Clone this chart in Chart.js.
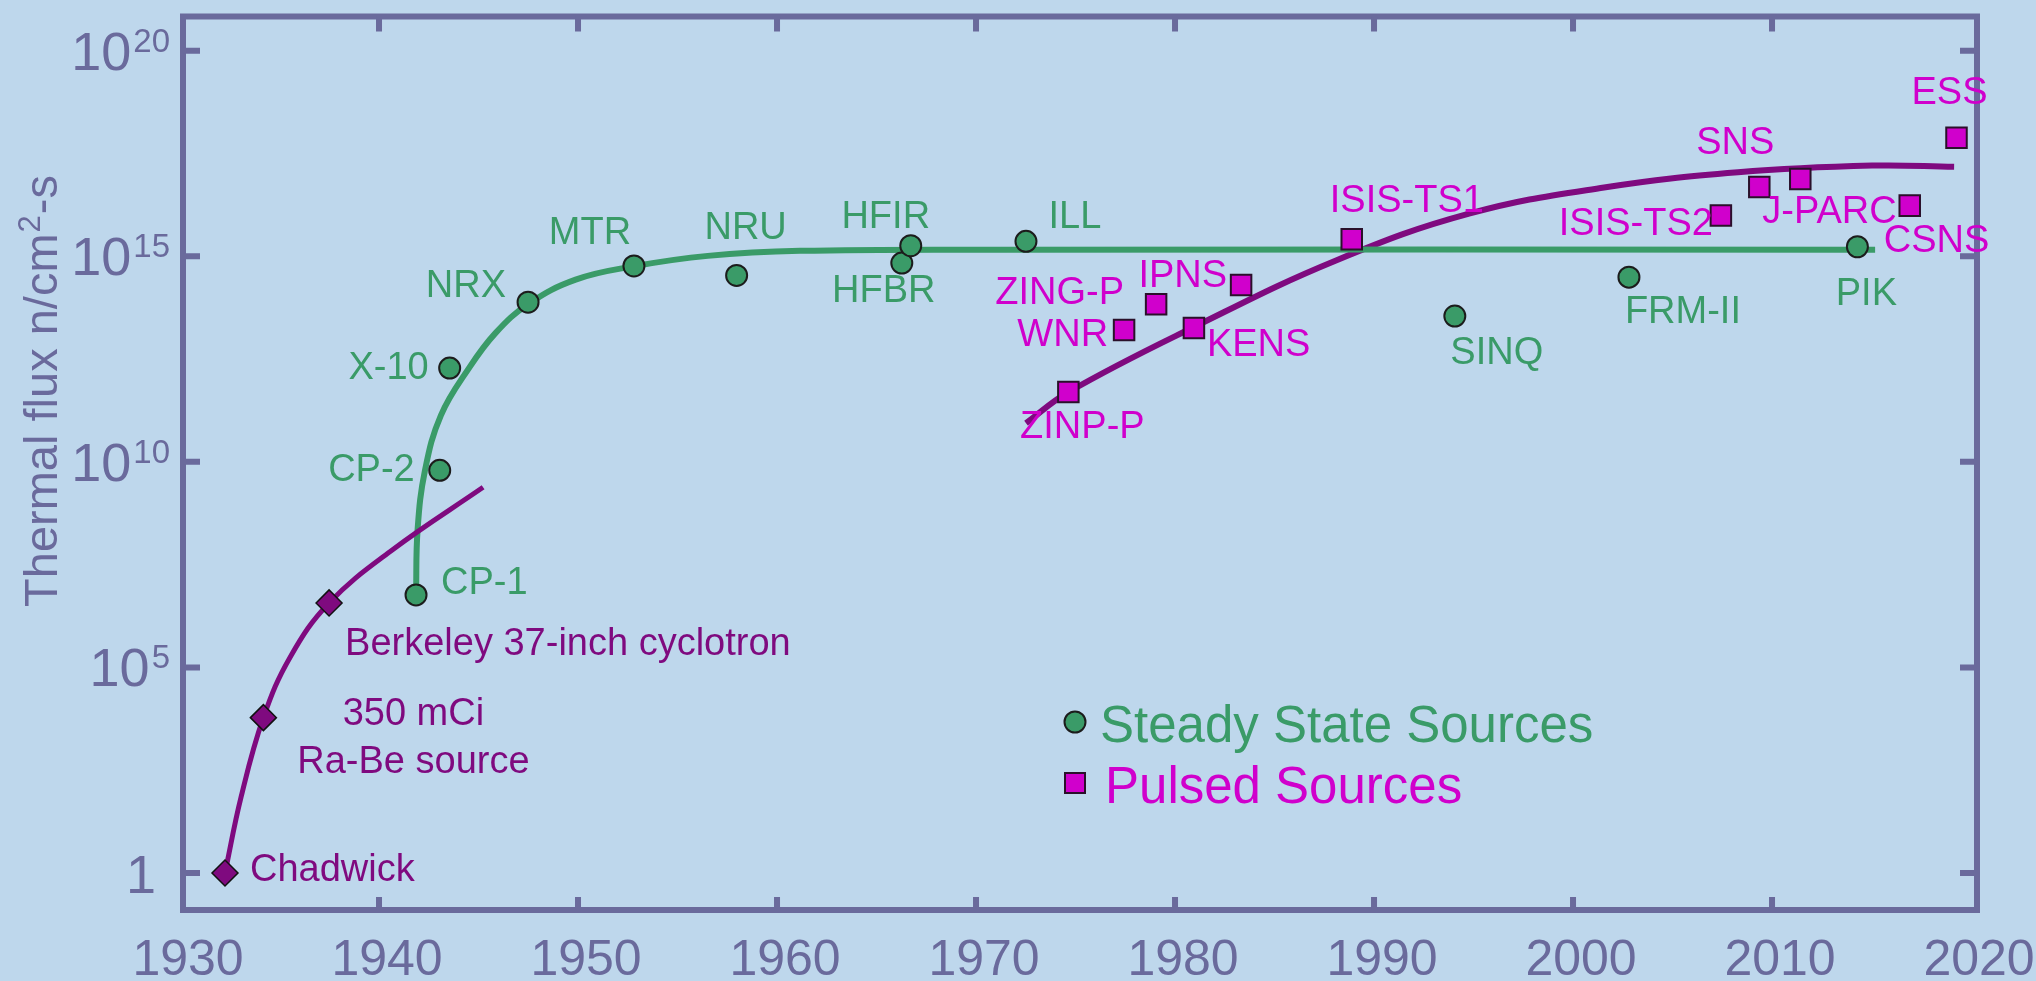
<!DOCTYPE html>
<html lang="en">
<head>
    <meta charset="UTF-8">
    <title>Thermal neutron flux of sources</title>
    <script src="https://cdn.jsdelivr.net/npm/chart.js"></script>
    <style>
        html, body { margin: 0; padding: 0; background: #bed7ec; }
        canvas { display: block; }
    </style>
</head>
<body>
<canvas id="fluxChart" width="2036" height="981"></canvas>
<script>
    // Early sources (diamonds)
    const earlyNames = ['Chadwick', '350 mCi\nRa-Be source', 'Berkeley 37-inch cyclotron'];
    const earlyYears = [1932.26, 1934.19, 1937.49];
    const earlyFlux = [1, 6.0e3, 3.7e6];

    // Steady state sources (circles)
    const steadyNames = ['CP-1', 'CP-2', 'X-10', 'NRX', 'MTR', 'NRU', 'HFBR', 'HFIR', 'ILL', 'SINQ', 'FRM-II', 'PIK'];
    const steadyYears = [1941.86, 1943.05, 1943.55, 1947.49, 1952.81, 1957.97, 1966.27, 1966.72, 1972.51, 1994.06, 2002.81, 2014.29];
    const steadyFlux = [5.8e6, 6.2e9, 1.9e12, 7.6e13, 5.8e14, 3.4e14, 6.8e14, 1.8e15, 2.3e15, 3.5e13, 3.1e14, 1.7e15];

    // Pulsed sources (squares)
    const pulsedNames = ['ZINP-P', 'WNR', 'ZING-P', 'KENS', 'IPNS', 'ISIS-TS1', 'ISIS-TS2', 'SNS', 'J-PARC', 'CSNS', 'ESS'];
    const pulsedYears = [1974.64, 1977.44, 1979.05, 1980.95, 1983.32, 1988.88, 2007.43, 2009.36, 2011.42, 2016.92, 2019.27];
    const pulsedFlux = [5.0e11, 1.6e13, 6.8e13, 1.8e13, 2.0e14, 2.6e15, 9.8e15, 4.8e16, 7.6e16, 1.7e16, 7.6e17];

    // Trend curves, points
    const earlyCurveYears = [1932.26, 1933.07, 1934.19, 1935.54, 1937.49, 1940.70, 1945.23];
    const earlyCurveFlux = [1, 71, 6.0e3, 1.8e5, 3.7e6, 7.4e7, 2.4e9];
    const steadyCurveYears = [1941.86, 1941.94, 1942.31, 1943.11, 1944.52, 1945.85, 1947.50, 1949.88, 1952.81, 1956.52, 1961.16, 1971.21, 2015.18];
    const steadyCurveFlux = [5.8e6, 2.3e8, 6.2e9, 1.35e11, 1.9e12, 1.35e13, 6.9e13, 2.7e14, 5.7e14, 1.02e15, 1.35e15, 1.44e15, 1.44e15];
    const pulsedCurveYears = [1972.51, 1974.62, 1980.95, 1988.09, 1994.82, 2001.56, 2008.29, 2015.03, 2019.15];
    const pulsedCurveFlux = [8.7e10, 4.9e11, 1.9e13, 7.9e14, 1.1e16, 4.7e16, 1.1e17, 1.6e17, 1.5e17];

    // Axis ticks
    const xTickYears = [1930, 1940, 1950, 1960, 1970, 1980, 1990, 2000, 2010, 2020];
    const yTickValues = [1, 1e5, 1e10, 1e15, 1e20];
    const yTickExponents = ['', '5', '10', '15', '20'];

    const legendLabels = ['Steady State Sources', 'Pulsed Sources'];

    // colours
    const BG = '#bed7ec';
    const AXIS = '#6a6a9c';
    const GREEN = '#3a9b68';
    const MAGENTA = '#d000cc';
    const PURPLE = '#7f0a7f';
    const FONT = '"Liberation Sans", Arial, sans-serif';

    // label placement relative to each marker: [dx, dy, align]
    const earlyLabelPos = [[25, -2, 'left'], [150, -3, 'center'], [16, 42, 'left']];
    const steadyLabelPos = [
        [25, -11, 'left'], [-25, 0, 'right'], [-21, 0, 'right'], [-22, -16, 'right'],
        [-44, -32, 'center'], [9, -47, 'center'], [-18, 28, 'center'], [-25, -28, 'center'],
        [49, -24, 'center'], [42, 37, 'center'], [54, 35, 'center'], [9, 48, 'center']
    ];
    const pulsedLabelPos = [
        [14, 36, 'center'], [-16, 5, 'right'], [-32, -11, 'right'], [13, 18, 'left'],
        [-14, -8, 'right'], [-22, -38, 'left'], [-8, 9, 'right'], [-24, -44, 'center'],
        [-38, 34, 'left'], [-26, 36, 'left'], [-7, -44, 'center']
    ];

    function toPoints(xs, ys) {
        return xs.map((x, i) => ({ x: x, y: ys[i] }));
    }

    function drawLabels(chart, dsIndex, names, pos, color) {
        const c = chart.ctx;
        const meta = chart.getDatasetMeta(dsIndex);
        c.fillStyle = color;
        c.font = '38px ' + FONT;
        c.textBaseline = 'middle';
        meta.data.forEach((pt, i) => {
            const [dx, dy, align] = pos[i];
            c.textAlign = align;
            names[i].split('\n').forEach((line, k) => {
                c.fillText(line, pt.x + dx, pt.y + dy + k * 48);
            });
        });
    }

    const decor = {
        id: 'decor',
        beforeDraw(chart) {
            const c = chart.ctx;
            c.save();
            c.fillStyle = BG;
            c.fillRect(0, 0, chart.width, chart.height);
            c.restore();
        },
        beforeDatasetsDraw(chart) {
            const c = chart.ctx;
            const a = chart.chartArea;
            const xs = chart.scales.x, ys = chart.scales.y;
            c.save();
            // frame
            c.strokeStyle = AXIS;
            c.lineWidth = 6;
            c.strokeRect(a.left, a.top, a.right - a.left, a.bottom - a.top);
            // inward ticks
            c.beginPath();
            yTickValues.forEach(v => {
                const py = ys.getPixelForValue(v);
                c.moveTo(a.left, py); c.lineTo(a.left + 17, py);
                c.moveTo(a.right, py); c.lineTo(a.right - 17, py);
            });
            xTickYears.forEach(v => {
                if (v === 1930 || v === 2020) return;
                const px = xs.getPixelForValue(v);
                c.moveTo(px, a.bottom); c.lineTo(px, a.bottom - 13);
                c.moveTo(px, a.top); c.lineTo(px, a.top + 15);
            });
            c.stroke();

            // x tick labels
            c.fillStyle = AXIS;
            c.font = '50px ' + FONT;
            c.textAlign = 'center';
            c.textBaseline = 'alphabetic';
            xTickYears.forEach(v => {
                c.fillText(String(v), xs.getPixelForValue(v) + 8, 975);
            });

            // y tick labels: 10 with superscript exponent
            yTickValues.forEach((v, i) => {
                const py = ys.getPixelForValue(v);
                const exp = yTickExponents[i];
                c.textAlign = 'right';
                if (exp === '') {
                    c.font = '54px ' + FONT;
                    c.fillText('1', a.left - 27, py + 20);
                    return;
                }
                c.font = '33px ' + FONT;
                const right = a.left - 13;
                c.fillText(exp, right, py + 1);
                const ew = c.measureText(exp).width;
                c.font = '54px ' + FONT;
                c.fillText('10', right - ew - 2, py + 19);
            });

            // y axis title, rotated, with superscript 2
            c.save();
            c.translate(57, 392);
            c.rotate(-Math.PI / 2);
            c.textAlign = 'left';
            const partA = 'Thermal flux n/cm', partB = '2', partC = '-s';
            c.font = '47px ' + FONT;
            const wa = c.measureText(partA).width, wc = c.measureText(partC).width;
            c.font = '31px ' + FONT;
            const wb = c.measureText(partB).width;
            const sx = -(wa + wb + wc) / 2;
            c.font = '47px ' + FONT;
            c.fillText(partA, sx, 0);
            c.font = '31px ' + FONT;
            c.fillText(partB, sx + wa + 1, -17);
            c.font = '47px ' + FONT;
            c.fillText(partC, sx + wa + wb + 2, 0);
            c.restore();

            c.restore();
        },
        afterDatasetsDraw(chart) {
            const c = chart.ctx;
            c.save();
            drawLabels(chart, 3, earlyNames, earlyLabelPos, PURPLE);
            drawLabels(chart, 4, steadyNames, steadyLabelPos, GREEN);
            drawLabels(chart, 5, pulsedNames, pulsedLabelPos, MAGENTA);

            // legend
            c.lineWidth = 2;
            c.strokeStyle = '#1c1c1c';
            c.fillStyle = GREEN;
            c.beginPath();
            c.arc(1075, 722, 10.5, 0, Math.PI * 2);
            c.fill(); c.stroke();
            c.fillStyle = MAGENTA;
            c.fillRect(1065, 773, 20, 20);
            c.strokeStyle = '#2a102a';
            c.strokeRect(1065, 773, 20, 20);

            c.font = '51px ' + FONT;
            c.textAlign = 'left';
            c.textBaseline = 'alphabetic';
            c.fillStyle = GREEN;
            c.fillText(legendLabels[0], 1100, 742);
            c.fillStyle = MAGENTA;
            c.fillText(legendLabels[1], 1105, 803);
            c.restore();
        }
    };

    const curveStyle = { showLine: true, pointRadius: 0, tension: 0.4, order: 2, clip: false };

    const ctx = document.getElementById('fluxChart').getContext('2d');
    const fluxChart = new Chart(ctx, {
        type: 'scatter',
        data: {
            datasets: [
                Object.assign({
                    label: 'Early curve',
                    data: toPoints(earlyCurveYears, earlyCurveFlux),
                    borderColor: PURPLE,
                    borderWidth: 5
                }, curveStyle),
                Object.assign({
                    label: 'Steady curve',
                    data: toPoints(steadyCurveYears, steadyCurveFlux),
                    borderColor: GREEN,
                    borderWidth: 6
                }, curveStyle),
                Object.assign({
                    label: 'Pulsed curve',
                    data: toPoints(pulsedCurveYears, pulsedCurveFlux),
                    borderColor: PURPLE,
                    borderWidth: 6
                }, curveStyle),
                {
                    label: 'Early sources',
                    data: toPoints(earlyYears, earlyFlux),
                    pointStyle: 'rectRot',
                    pointRadius: 13,
                    backgroundColor: PURPLE,
                    borderColor: '#111111',
                    borderWidth: 1.5,
                    order: 1,
                    clip: false
                },
                {
                    label: 'Steady State Sources',
                    data: toPoints(steadyYears, steadyFlux),
                    pointStyle: 'circle',
                    pointRadius: 10.5,
                    backgroundColor: GREEN,
                    borderColor: '#1c1c1c',
                    borderWidth: 2,
                    order: 1,
                    clip: false
                },
                {
                    label: 'Pulsed Sources',
                    data: toPoints(pulsedYears, pulsedFlux),
                    pointStyle: 'rect',
                    pointRadius: 14.5,
                    backgroundColor: MAGENTA,
                    borderColor: '#2a102a',
                    borderWidth: 2,
                    order: 1,
                    clip: false
                }
            ]
        },
        options: {
            responsive: false,
            animation: false,
            devicePixelRatio: 1,
            layout: { padding: { left: 183, right: 59, top: 16, bottom: 71 } },
            plugins: {
                legend: { display: false },
                tooltip: { enabled: false }
            },
            scales: {
                x: { type: 'linear', min: 1930.15, max: 2020.3, display: false },
                y: { type: 'logarithmic', min: 0.126, max: 6.76e20, display: false }
            }
        },
        plugins: [decor]
    });
</script>
</body>
</html>
